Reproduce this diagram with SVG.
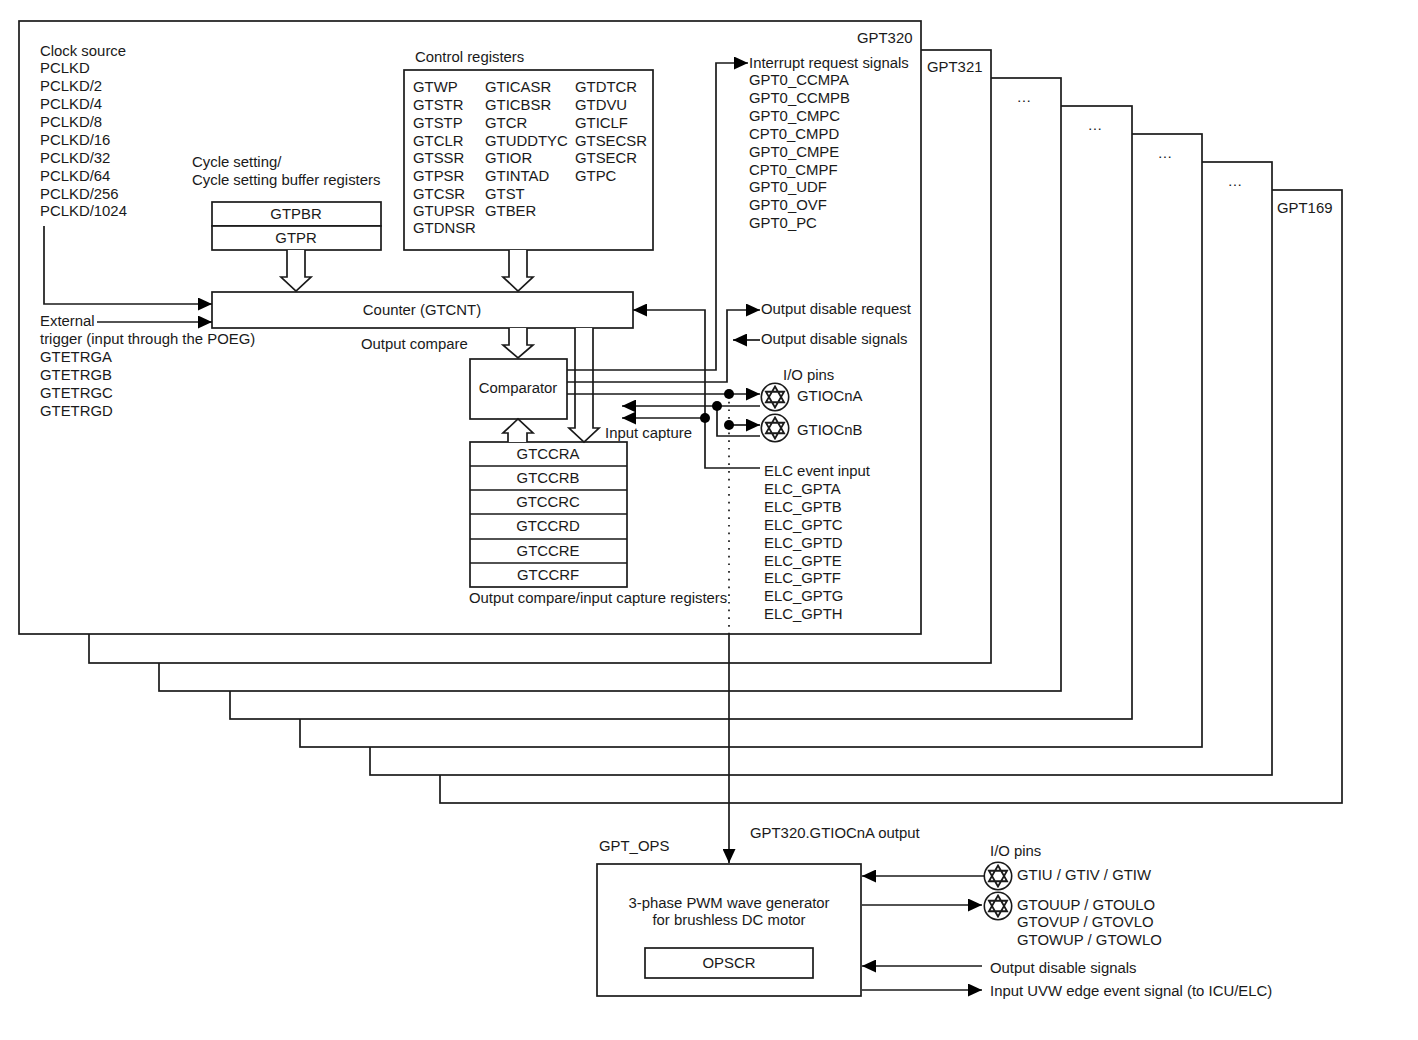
<svg xmlns="http://www.w3.org/2000/svg" width="1418" height="1040" viewBox="0 0 1418 1040">
<defs>
<style>
text{font-family:"Liberation Sans",Arial,sans-serif;font-size:14.9px;fill:#1a1a1a}
.b{fill:#fff;stroke:#1a1a1a;stroke-width:1.7}
.l{fill:none;stroke:#1a1a1a;stroke-width:1.7}
.m{text-anchor:middle}
.d{fill:#000}
</style>
<marker id="a" markerUnits="userSpaceOnUse" markerWidth="14" markerHeight="13" refX="14" refY="6.5" orient="auto-start-reverse"><path d="M0 0L14 6.5L0 13Z" fill="#000"/></marker>
<g id="pin"><circle cx="0" cy="0" r="13.7" fill="#fff" stroke="#1a1a1a" stroke-width="1.6"/><path d="M0-10.5L9.1 5.25H-9.1ZM0 10.5L-9.1-5.25H9.1Z" fill="none" stroke="#1a1a1a" stroke-width="1.8"/></g>
</defs>
<rect width="1418" height="1040" fill="#fff"/>
<g id="gpt169"><rect class="b" x="440" y="190" width="902" height="613"/><text x="1277" y="213">GPT169</text></g>
<g id="gpt-e"><rect class="b" x="370" y="162" width="902" height="613"/><text x="1235" y="186" class="m">…</text></g>
<g id="gpt-d"><rect class="b" x="300" y="134" width="902" height="613"/><text x="1165" y="158" class="m">…</text></g>
<g id="gpt-c"><rect class="b" x="230" y="106" width="902" height="613"/><text x="1095" y="130" class="m">…</text></g>
<g id="gpt-b"><rect class="b" x="159" y="78" width="902" height="613"/><text x="1024" y="102" class="m">…</text></g>
<g id="gpt321"><rect class="b" x="89" y="50" width="902" height="613"/><text x="927" y="72">GPT321</text></g>
<g id="gpt320"><rect class="b" x="19" y="21" width="902" height="613"/><text x="857" y="43">GPT320</text></g>
<g id="clock"><text x="40" y="56">Clock source</text><text x="40" y="73">PCLKD</text><text x="40" y="91">PCLKD/2</text><text x="40" y="109">PCLKD/4</text><text x="40" y="127">PCLKD/8</text><text x="40" y="145">PCLKD/16</text><text x="40" y="163">PCLKD/32</text><text x="40" y="181">PCLKD/64</text><text x="40" y="199">PCLKD/256</text><text x="40" y="216">PCLKD/1024</text></g>
<g id="external"><text x="40" y="326">External</text><text x="40" y="344">trigger (input through the POEG)</text><text x="40" y="362">GTETRGA</text><text x="40" y="380">GTETRGB</text><text x="40" y="398">GTETRGC</text><text x="40" y="416">GTETRGD</text></g>
<g id="cycle"><text x="192" y="167">Cycle setting/</text><text x="192" y="185">Cycle setting buffer registers</text><rect class="b" x="212" y="202" width="169" height="24"/><rect class="b" x="212" y="226" width="169" height="24"/><text x="296" y="219" class="m">GTPBR</text><text x="296" y="243" class="m">GTPR</text></g>
<g id="control"><text x="415" y="62">Control registers</text><rect class="b" x="404" y="70" width="249" height="180"/>
<text x="413" y="92">GTWP</text><text x="413" y="110">GTSTR</text><text x="413" y="128">GTSTP</text><text x="413" y="146">GTCLR</text><text x="413" y="163">GTSSR</text><text x="413" y="181">GTPSR</text><text x="413" y="199">GTCSR</text><text x="413" y="216">GTUPSR</text><text x="413" y="233">GTDNSR</text>
<text x="485" y="92">GTICASR</text><text x="485" y="110">GTICBSR</text><text x="485" y="128">GTCR</text><text x="485" y="146">GTUDDTYC</text><text x="485" y="163">GTIOR</text><text x="485" y="181">GTINTAD</text><text x="485" y="199">GTST</text><text x="485" y="216">GTBER</text>
<text x="575" y="92">GTDTCR</text><text x="575" y="110">GTDVU</text><text x="575" y="128">GTICLF</text><text x="575" y="146">GTSECSR</text><text x="575" y="163">GTSECR</text><text x="575" y="181">GTPC</text></g>
<g id="counter"><rect class="b" x="212" y="292" width="421" height="36"/><text x="422" y="315" class="m">Counter (GTCNT)</text></g>
<g id="comparator"><rect class="b" x="470" y="359" width="97" height="60"/><text x="518" y="393" class="m">Comparator</text></g>
<g id="gtccr"><rect class="b" x="470" y="442" width="157" height="145"/><path class="l" d="M470 466H627M470 490H627M470 514H627M470 539H627M470 563H627"/>
<text x="548" y="459" class="m">GTCCRA</text><text x="548" y="483" class="m">GTCCRB</text><text x="548" y="507" class="m">GTCCRC</text><text x="548" y="531" class="m">GTCCRD</text><text x="548" y="556" class="m">GTCCRE</text><text x="548" y="580" class="m">GTCCRF</text><text x="469" y="603">Output compare/input capture registers</text></g>
<g id="interrupts"><text x="749" y="68">Interrupt request signals</text><text x="749" y="85">GPT0_CCMPA</text><text x="749" y="103">GPT0_CCMPB</text><text x="749" y="121">GPT0_CMPC</text><text x="749" y="139">CPT0_CMPD</text><text x="749" y="157">GPT0_CMPE</text><text x="749" y="175">CPT0_CMPF</text><text x="749" y="192">GPT0_UDF</text><text x="749" y="210">GPT0_OVF</text><text x="749" y="228">GPT0_PC</text></g>
<g id="elc"><text x="764" y="476">ELC event input</text><text x="764" y="494">ELC_GPTA</text><text x="764" y="512">ELC_GPTB</text><text x="764" y="530">ELC_GPTC</text><text x="764" y="548">ELC_GPTD</text><text x="764" y="566">ELC_GPTE</text><text x="764" y="583">ELC_GPTF</text><text x="764" y="601">ELC_GPTG</text><text x="764" y="619">ELC_GPTH</text></g>
<g id="labels"><text x="761" y="314">Output disable request</text><text x="761" y="344">Output disable signals</text><text x="361" y="349">Output compare</text><text x="605" y="438">Input capture</text><text x="783" y="380">I/O pins</text><text x="797" y="401">GTIOCnA</text><text x="797" y="435">GTIOCnB</text><text x="750" y="838">GPT320.GTIOCnA output</text></g>
<g id="pins-a"><use href="#pin" x="775" y="397"/><use href="#pin" x="775" y="428"/></g>
<g id="connectors">
<path class="l" d="M44 226V304H212" marker-end="url(#a)"/>
<path class="l" d="M97 322H212" marker-end="url(#a)"/>
<path class="b" d="M287 250V277H281L296 291L311 277H305V250"/>
<path class="b" d="M509 250V277H503L518 291L533 277H527V250"/>
<path class="b" d="M509 328V345H503L518 358L533 345H527V328"/>
<path class="b" d="M575 328V428H569L584 442L599 428H593V328"/>
<path class="b" d="M508 442V433H503L518 419L533 433H527V442"/>
<path class="l" d="M567 370H716V63H748" marker-end="url(#a)"/>
<path class="l" d="M567 382H727V310H760" marker-end="url(#a)"/>
<path class="l" d="M567 394H760" marker-end="url(#a)"/>
<path class="l" d="M760 340H733" marker-end="url(#a)"/>
<path class="l" d="M760 468H705V310H633" marker-end="url(#a)"/>
<path class="l" d="M760 406H622" marker-end="url(#a)"/>
<path class="l" d="M705 418H622" marker-end="url(#a)"/>
<path class="l" d="M717 406V436H760"/>
<path class="l" d="M729 425H760" marker-end="url(#a)"/>
<path class="l" stroke-dasharray="1.7 6" d="M729 394V634"/>
<path class="l" d="M729 634V863" marker-end="url(#a)"/>
<circle class="d" cx="729" cy="394" r="5"/><circle class="d" cx="717" cy="406" r="5"/><circle class="d" cx="705" cy="418" r="5"/><circle class="d" cx="729" cy="425" r="5"/>
<path class="l" d="M984 876H862" marker-end="url(#a)"/>
<path class="l" d="M862 905H982" marker-end="url(#a)"/>
<path class="l" d="M982 966H862" marker-end="url(#a)"/>
<path class="l" d="M862 990H982" marker-end="url(#a)"/>
</g>
<g id="gpt-ops"><text x="599" y="851">GPT_OPS</text><rect class="b" x="597" y="864" width="264" height="132"/><text x="729" y="908" class="m">3-phase PWM wave generator</text><text x="729" y="925" class="m">for brushless DC motor</text><rect class="b" x="645" y="948" width="168" height="30"/><text x="729" y="968" class="m">OPSCR</text></g>
<g id="pins-b"><use href="#pin" x="998" y="876"/><use href="#pin" x="998" y="906"/><text x="990" y="856">I/O pins</text><text x="1017" y="880">GTIU / GTIV / GTIW</text><text x="1017" y="910">GTOUUP / GTOULO</text><text x="1017" y="927">GTOVUP / GTOVLO</text><text x="1017" y="945">GTOWUP / GTOWLO</text><text x="990" y="973">Output disable signals</text><text x="990" y="996">Input UVW edge event signal (to ICU/ELC)</text></g>
</svg>
